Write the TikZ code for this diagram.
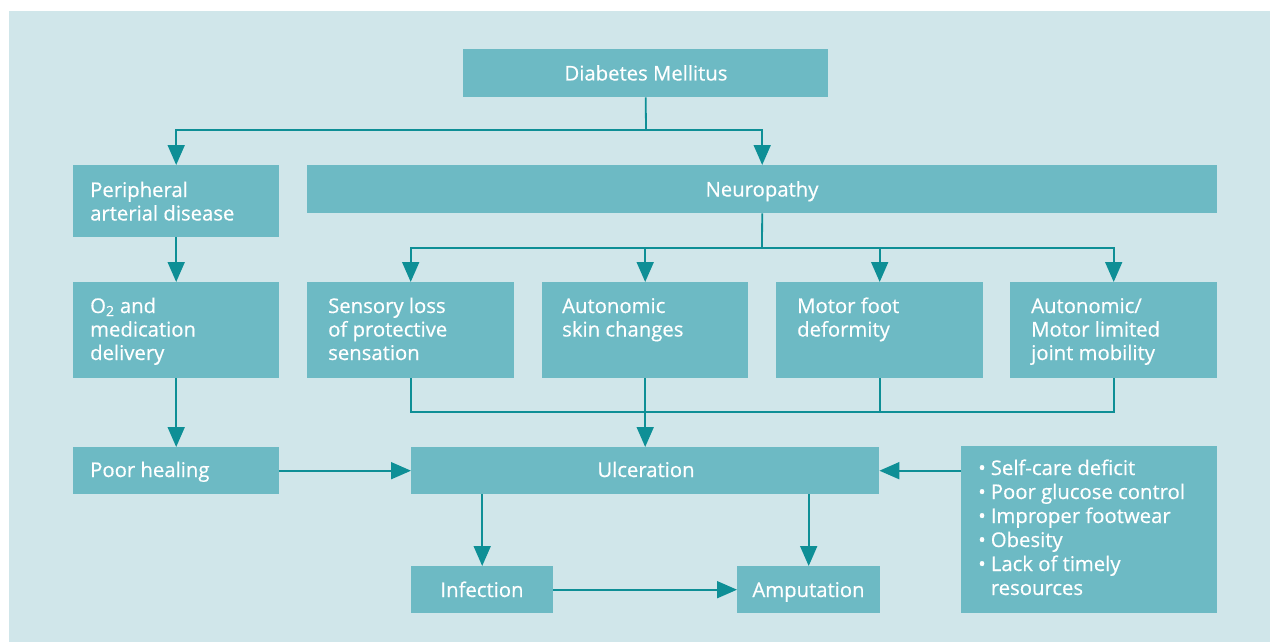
\documentclass[tikz,border=0pt]{standalone}
\usepackage{fontspec}
\setmainfont{Open Sans}[FakeBold=0.5]
\usetikzlibrary{arrows.meta}
\definecolor{bgc}{HTML}{D0E6EA}
\definecolor{boxc}{HTML}{6DBAC4}
\definecolor{lnc}{HTML}{0E8F96}
\newcommand\tl[1]{\begin{tabular}[t]{@{}l@{}}#1\end{tabular}}
\begin{document}
\begin{tikzpicture}[x=1pt,y=-1pt,
  box/.style={fill=boxc,draw=none,inner sep=0pt,anchor=north west},
  txt/.style={text=white,inner sep=0pt,font=\fontsize{20.3}{23.5}\selectfont},
  ln/.style={draw=lnc,line width=1.8pt},
  arr/.style={ln,-{Triangle[length=20pt,width=17pt]}}]
\useasboundingbox (0,0) rectangle (1270,642);
\fill[white] (0,0) rectangle (1270,642);
\fill[bgc] (9,11) rectangle (1270,642);
% boxes
\node[box,minimum width=365pt,minimum height=48pt] (dm) at (463,49) {};
\node[box,minimum width=206pt,minimum height=72pt] (pad) at (73,165) {};
\node[box,minimum width=910pt,minimum height=48pt] (neu) at (307,165) {};
\node[box,minimum width=206pt,minimum height=96pt] (o2) at (73,282) {};
\node[box,minimum width=207pt,minimum height=96pt] (sen) at (307,282) {};
\node[box,minimum width=206pt,minimum height=96pt] (aut) at (542,282) {};
\node[box,minimum width=207pt,minimum height=96pt] (mot) at (776,282) {};
\node[box,minimum width=207pt,minimum height=96pt] (amm) at (1010,282) {};
\node[box,minimum width=206pt,minimum height=47pt] (ph) at (73,447) {};
\node[box,minimum width=468pt,minimum height=47pt] (ulc) at (411,447) {};
\node[box,minimum width=256pt,minimum height=167pt] (bul) at (961,446) {};
\node[box,minimum width=142pt,minimum height=47pt] (inf) at (411,566) {};
\node[box,minimum width=143pt,minimum height=47pt] (amp) at (737,566) {};
% texts
\node[txt,anchor=base] (dmt) at (646,80.5) {Diabetes Mellitus};
\node[txt,anchor=base west] (padt) at (90,197) {\tl{Peripheral\\arterial disease}};
\node[txt,anchor=base] (neut) at (762,196.5) {Neuropathy};
\node[txt,anchor=base west] (o2t) at (90,313) {\tl{O\textsubscript{2} and\\medication\\delivery}};
\node[txt,anchor=base west] (sent) at (328,313) {\tl{Sensory loss\\of protective\\sensation}};
\node[txt,anchor=base west] (autt) at (562,313) {\tl{Autonomic\\skin changes}};
\node[txt,anchor=base west] (mott) at (797,313) {\tl{Motor foot\\deformity}};
\node[txt,anchor=base west] (ammt) at (1031,313) {\tl{Autonomic/\\Motor limited\\joint mobility}};
\node[txt,anchor=base west] (pht) at (90,477) {Poor healing};
\node[txt,anchor=base] (ulct) at (646,477) {Ulceration};
\node[txt,anchor=base] (inft) at (482,597) {Infection};
\node[txt,anchor=base] (ampt) at (808.5,597) {Amputation};
\node[txt,anchor=base west,font=\fontsize{20.3}{24}\selectfont] (bult) at (978,475)
  {\begin{tabular}[t]{@{}l@{\hspace{5pt}}l@{}}
   \textbullet & Self-care deficit\\
   \textbullet & Poor glucose control\\
   \textbullet & Improper footwear\\
   \textbullet & Obesity\\
   \textbullet & Lack of timely\\
               & resources
   \end{tabular}};
% connectors
\coordinate (j1) at (646,130);
\draw[ln] (dm.south) -- (j1);
\draw[arr] (j1) -| (pad.north);
\draw[arr] (j1) -| (neu.north);
\draw[arr] (pad.south) -- (o2.north);
\draw[arr] (o2.south) -- (ph.north);
\coordinate (j2) at (762,248);
\draw[ln] (neu.south) -- (j2);
\draw[arr] (j2) -| (sen.north);
\draw[arr] (j2) -| (aut.north);
\draw[arr] (j2) -| (mot.north);
\draw[arr] (j2) -| (amm.north);
\coordinate (j3) at (645,412);
\draw[ln] (sen.south) |- (j3);
\draw[ln] (mot.south) |- (j3);
\draw[ln] (amm.south) |- (j3);
\draw[arr] (aut.south) -- (ulc.north);
\draw[arr] (ph.east) -- (ulc.west);
\draw[arr] (bul.west |- ulc.east) -- (ulc.east);
\draw[arr] (ulc.south -| inf.north) -- (inf.north);
\draw[arr] (ulc.south -| amp.north) -- (amp.north);
\draw[arr] (inf.east) -- (amp.west);
\end{tikzpicture}
\end{document}
